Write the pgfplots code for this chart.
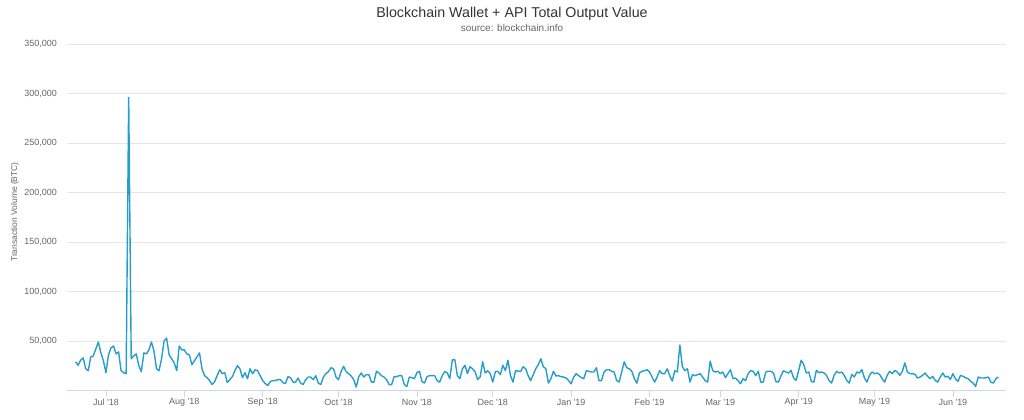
\documentclass[border=0pt]{standalone}
\usepackage{fontspec}
\setmainfont{Liberation Sans}
\usepackage{pgfplots}
\usepackage{pgfplotstable}
\pgfplotsset{compat=1.18}
\definecolor{linec}{RGB}{38,158,204}
\definecolor{gridc}{RGB}{230,230,230}
\definecolor{axisc}{RGB}{204,214,235}
\definecolor{labc}{RGB}{102,102,102}
\definecolor{titc}{RGB}{51,51,51}
\pgfplotstableread{
d v
-12 29
-11 25.5
-10 30.6
-9 33
-8 22
-7 20
-6 34
-5 35
-4 42
-3 49
-2 38
-1 30
0 18
1 36
2 43
3 45
4 37
5 39
6 20
7 18
8 17
9 296
10 32
11 35
12 37
13 25
14 19
15 38
16 37
17 41
18 49
19 40
20 22
21 20
22 32
23 50
24 53
25 36
26 32
27 28
28 20
29 45
30 41
31 41
32 37
33 36
34 26
35 30
36 34
37 38
38 22
39 15
40 13
41 10
42 6
43 9
44 15
45 21
46 17
47 18
48 8
49 11
50 14
51 20
52 25
53 22
54 13
55 18
56 12
57 22
58 17
59 21
60 20
61 15
62 10
63 7
64 5
65 9
66 10
67 10
68 11
69 11
70 8
71 7
72 14
73 13
74 8.5
75 8.5
76 12.6
77 7.5
78 6
79 11
80 13.6
81 13.6
82 11
83 15
84 7.5
85 6
86 13.6
87 17
88 19
89 23
90 22
91 13.6
92 11
93 19
94 24.5
95 19
96 17
97 14.6
98 11
99 3.4
100 14
101 17.7
102 13.6
103 16
104 16
105 8.5
106 8.5
107 19.4
108 17.7
109 15
110 13.6
111 11
112 6
113 6
114 14
115 14
116 15
117 15
118 6
119 4
120 13.6
121 13
122 12
123 18
124 19.4
125 9
126 7.5
127 14
128 15
129 15
130 15
131 10
132 8.5
133 15
134 19
135 18
136 12
137 31
138 31
139 15
140 12
141 22
142 25.5
143 17
144 24
145 22
146 19
147 11
148 13.6
149 29
150 17.7
151 20
152 17
153 8.5
154 19
155 19.4
156 16
157 25.5
158 20
159 30.6
160 15
161 8.5
162 20
163 19.7
164 19
165 24
166 22
167 15
168 10
169 16
170 22
171 26
172 32
173 24
174 22
175 7.5
176 12
177 19.4
178 14.6
179 15
180 14
181 13.6
182 12.6
183 10
184 6.8
185 13.6
186 17
187 15
188 13
189 12
190 20
191 19.4
192 18.7
193 18.7
194 23
195 10
196 10
197 18.7
198 21
199 21
200 19.4
201 18.7
202 10
203 8.5
204 18.7
205 29
206 23
207 22
208 19.4
209 12
210 7.5
211 17.7
212 19.4
213 20
214 21
215 18.7
216 13.6
217 8.5
218 13.6
219 20
220 17
221 17
222 22
223 15
224 9.5
225 20
226 18.7
227 46
228 24
229 20
230 22
231 8.5
232 16
233 15
234 16
235 17
236 13.6
237 10
238 8.5
239 29.6
240 20
241 18.7
242 19.4
243 17
244 18.7
245 13
246 17
247 21
248 12
249 12.6
250 10
251 6.8
252 12
253 10
254 17
255 20
256 19.4
257 15
258 19.4
259 8.5
260 8.5
261 18.7
262 19.4
263 19.4
264 17.7
265 9
266 8.5
267 15
268 20
269 18.7
270 17.7
271 20.4
272 12.6
273 10.2
274 20.4
275 30.6
276 26.2
277 17.7
278 18.7
279 9.2
280 8.5
281 20.4
282 18
283 18.7
284 17.7
285 15.3
286 10.2
287 7.5
288 15.3
289 19.4
290 17.7
291 18.7
292 15.3
293 10.2
294 7.5
295 16.3
296 13.6
297 18.7
298 17.7
299 21
300 12.6
301 8.5
302 15.3
303 18.7
304 17
305 17.7
306 16.3
307 11.9
308 8.5
309 15.3
310 19.4
311 17
312 20.4
313 18.7
314 15.3
315 19.4
316 27.9
317 18.7
318 17
319 17
320 16.3
321 12.6
322 13.6
323 15.3
324 17.7
325 14.3
326 11.9
327 14.3
328 10.2
329 8.5
330 13.6
331 17.7
332 13.6
333 14.3
334 11.2
335 17
336 11.9
337 9.2
338 15.3
339 14.3
340 12.9
341 11.9
342 9.2
343 7.5
344 4.1
345 13.6
346 12.6
347 12.6
348 12.9
349 13.6
350 8.5
351 7.5
352 11.9
353 13.6
}\datatable
\begin{document}
\begin{tikzpicture}[x=1bp,y=1bp]
\useasboundingbox (0,0) rectangle (1024,419);
\begin{axis}[
  at={(67bp,28.5bp)}, anchor=south west,
  scale only axis, width=939bp, height=346.5bp,
  xmin=-15.4, xmax=356, ymin=0, ymax=350000,
  axis x line*=bottom, axis y line*=left,
  x axis line style={draw=axisc, line width=0.8bp, -},
  y axis line style={draw=none},
  xtick={0,31,62,92,123,153,184,215,243,274,304,335},
  xticklabels={Jul \textquotesingle18, Aug \textquotesingle18, Sep \textquotesingle18, Oct \textquotesingle18, Nov \textquotesingle18, Dec \textquotesingle18, Jan \textquotesingle19, Feb \textquotesingle19, Mar \textquotesingle19, Apr \textquotesingle19, May \textquotesingle19, Jun \textquotesingle19},
  ytick={50000,100000,150000,200000,250000,300000,350000},
  scaled y ticks=false,
  ymajorgrids, grid style={draw=gridc, line width=0.8bp},
  tick align=outside,
  x tick style={draw=axisc, line width=0.8bp},
  y tick style={draw=none},
  major tick length=6bp,
  yticklabel style={font=\fontsize{9}{10}\selectfont, text=labc, anchor=east, inner sep=0pt, xshift=-4bp,
    /pgf/number format/fixed, /pgf/number format/1000 sep={,}, /pgf/number format/assume math mode=true},
  xticklabel style={font=\fontsize{9}{10}\selectfont, text=labc, anchor=center, inner sep=0pt, yshift=-6bp},
  clip=false,
]
\addplot[linec, line width=1.4bp, line join=round, mark=none] table[x=d, y expr=\thisrow{v}*1000] {\datatable};
\end{axis}
\node[font=\fontsize{14.3}{16}\selectfont, text=titc] at (512,405) {Blockchain Wallet + API Total Output Value};
\node[font=\fontsize{10}{12}\selectfont, text=labc] at (512,391) {source: blockchain.info};
\node[rotate=90, font=\fontsize{8.5}{10}\selectfont, text=labc] at (15,207) {Transaction Volume (BTC)};
\end{tikzpicture}
\end{document}
